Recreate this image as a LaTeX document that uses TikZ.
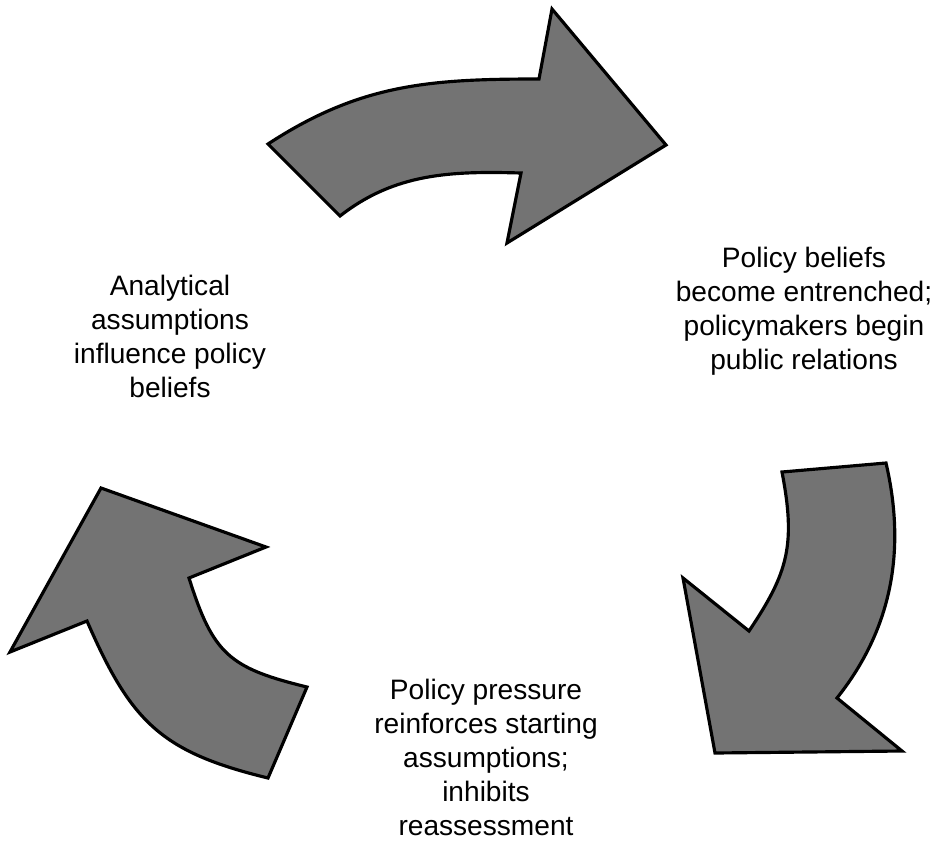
\documentclass[tikz,border=0pt]{standalone}
\usepackage{fontspec}
\setmainfont{Liberation Sans}
\begin{document}
\begin{tikzpicture}[x=0.02cm, y=-0.02cm,
		arrowshape/.style={draw=black, fill=black!55, line width=1.8pt, line join=miter},
		caption/.style={align=center, inner sep=0pt, anchor=north, font=\fontsize{16}{19.3}\selectfont}]
	\useasboundingbox (0, 0) rectangle (936, 842);
	% top arrow, pointing right
	\draw[arrowshape] (268, 144) .. controls (360, 84) and (429, 79) .. (539, 79)
		-- (552, 9) -- (666, 145) -- (507, 243) -- (521, 173)
		.. controls (451, 171) and (395, 173) .. (340, 216) -- cycle;
	% right arrow, pointing down
	\draw[arrowshape] (782, 472) -- (886, 463)
		.. controls (905, 545) and (895, 625) .. (837, 698)
		-- (902, 751) -- (715, 753) -- (683, 578) -- (749, 631)
		.. controls (788, 573) and (796, 545) .. cycle;
	% left arrow, pointing up
	\draw[arrowshape] (307, 687) -- (268, 778)
		.. controls (161, 752) and (131, 722) .. (87, 621)
		-- (10, 652) -- (101, 488) -- (266, 547) -- (189, 578)
		.. controls (213, 654) and (229, 668) .. cycle;
	\node[caption] (analysis) at (170, 275) {Analytical\\assumptions\\influence policy\\beliefs};
	\node[caption] (beliefs) at (804, 247) {Policy beliefs\\become entrenched;\\policymakers begin\\public relations};
	\node[caption] (pressure) at (486, 679) {Policy pressure\\reinforces starting\\assumptions;\\inhibits\\reassessment};
\end{tikzpicture}
\end{document}
